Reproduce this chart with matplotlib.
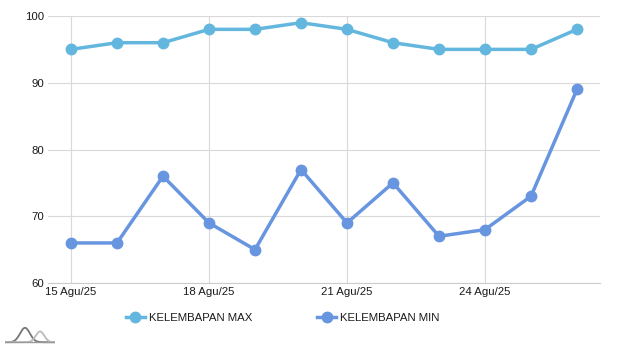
import numpy as np
import matplotlib
matplotlib.use("Agg")
import matplotlib.pyplot as plt
from matplotlib.lines import Line2D

plt.rcParams['font.family'] = ['Liberation Sans', 'DejaVu Sans']

dates = ["15 Agu/25", "16 Agu/25", "17 Agu/25", "18 Agu/25", "19 Agu/25", "20 Agu/25",
         "21 Agu/25", "22 Agu/25", "23 Agu/25", "24 Agu/25", "25 Agu/25", "26 Agu/25"]
hum_max = [95, 96, 96, 98, 98, 99, 98, 96, 95, 95, 95, 98]
hum_min = [66, 66, 76, 69, 65, 77, 69, 75, 67, 68, 73, 89]
y_ticks = [60, 70, 80, 90, 100]

c_max = "#63b7df"
c_min = "#6795e0"

W, H = 620, 348
fig = plt.figure(figsize=(W / 100, H / 100), dpi=100)
ax = fig.add_axes([48 / W, 1 - 283 / H, (600 - 48) / W, (283 - 16) / H])

x = np.arange(len(dates))
ax.plot(x, hum_max, color=c_max, lw=2.5, marker="o", ms=7.5, zorder=3, clip_on=False)
ax.plot(x, hum_min, color=c_min, lw=2.5, marker="o", ms=7.5, zorder=3, clip_on=False)

ax.set_xlim(-0.5, len(dates) - 0.5)
ax.set_ylim(60, 100)
ax.set_yticks(y_ticks)
ax.set_xticks(x[::3])
ax.set_xticklabels([dates[i] for i in x[::3]])
ax.grid(True, color="#d9d9d9", lw=0.8)
ax.set_axisbelow(True)
for s in ["top", "right", "left"]:
    ax.spines[s].set_visible(False)
ax.spines["bottom"].set_color("#cccccc")
ax.spines["bottom"].set_linewidth(0.8)
ax.tick_params(axis="both", length=0, labelsize=8.2, colors="#1a1a1a")
ax.tick_params(axis="y", pad=3)
ax.tick_params(axis="x", pad=3)

handles = [
    Line2D([], [], color=c_max, lw=2.5, marker="o", ms=7.5, label="KELEMBAPAN MAX"),
    Line2D([], [], color=c_min, lw=2.5, marker="o", ms=7.5, label="KELEMBAPAN MIN"),
]
fig.legend(handles=handles, loc="center", bbox_to_anchor=(283 / W, 1 - 318 / H),
           ncol=2, frameon=False, fontsize=8.2, handlelength=1.6, handletextpad=0.4,
           columnspacing=5.7, labelcolor="#1a1a1a")

# small logo in the lower-left corner
lax = fig.add_axes([5 / W, 1 - 344 / H, 50 / W, 18 / H])
t = np.linspace(0, 1, 200)
lax.plot(t, 0.1 + 0.8 * np.exp(-((t - 0.4) / 0.14) ** 2), color="#777777", lw=1.3)
lax.plot(t, 0.1 + 0.6 * np.exp(-((t - 0.7) / 0.12) ** 2), color="#bbbbbb", lw=1.3)
lax.plot([0, 1], [0.1, 0.1], color="#999999", lw=1)
lax.set_xlim(0, 1)
lax.set_ylim(0, 1)
lax.axis("off")

fig.savefig("out.png", dpi=100)
